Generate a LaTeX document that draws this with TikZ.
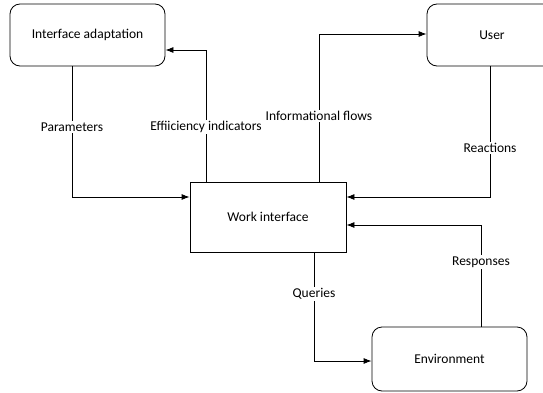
\documentclass[tikz,border=0pt]{standalone}
\usepackage{fontspec}
\setmainfont{Carlito}
\usepackage{tikz}
\usetikzlibrary{arrows.meta}

\tikzset{
	block/.style={draw=black, line width=0.8pt, rectangle, minimum width=155pt, minimum height=62pt, font=\fontsize{13.5}{16}\selectfont},
	roundblock/.style={block, rounded corners=10pt},
	flow/.style={draw=black, line width=0.8pt, -{Latex[length=8pt,width=6pt]}},
	lbl/.style={fill=white, inner sep=1.5pt, font=\fontsize{13.5}{16}\selectfont}
}

\begin{document}
\begin{tikzpicture}[x=1pt,y=1pt]
	\useasboundingbox (0,0) rectangle (543,392);
	% blocks
	\node[roundblock] (adapt) at (87.5,357) {Interface adaptation};
	\node[roundblock, minimum width=130pt] (user) at (492,357) {User};
	\node[block, minimum width=156pt, minimum height=70pt] (work) at (268,175) {Work interface};
	\node[roundblock, minimum height=64pt] (env) at (449.5,33) {Environment};
	% bends
	\coordinate (bendP) at (72,195);
	\coordinate (bendE) at (206,342);
	\coordinate (bendI) at (319,358);
	\coordinate (bendR) at (490,195);
	\coordinate (bendS) at (481,167);
	\coordinate (bendQ) at (314,31);
	% flows
	\draw[flow] (adapt.south -| bendP) |- (work.west |- bendP);
	\draw[flow] (work.north -| bendE) |- (adapt.east |- bendE);
	\draw[flow] (work.north -| bendI) |- (user.west |- bendI);
	\draw[flow] (user.south -| bendR) |- (work.east |- bendR);
	\draw[flow] (env.north -| bendS) |- (work.east |- bendS);
	\draw[flow] (work.south -| bendQ) |- (env.west |- bendQ);
	% labels
	\node[lbl] (lparam) at (72,265) {Parameters};
	\node[lbl] (leff) at (206,265) {Effiiciency indicators};
	\node[lbl] (linfo) at (319,276) {Informational flows};
	\node[lbl] (lreact) at (490,244) {Reactions};
	\node[lbl] (lresp) at (481,130) {Responses};
	\node[lbl] (lquery) at (314,98) {Queries};
\end{tikzpicture}
\end{document}
